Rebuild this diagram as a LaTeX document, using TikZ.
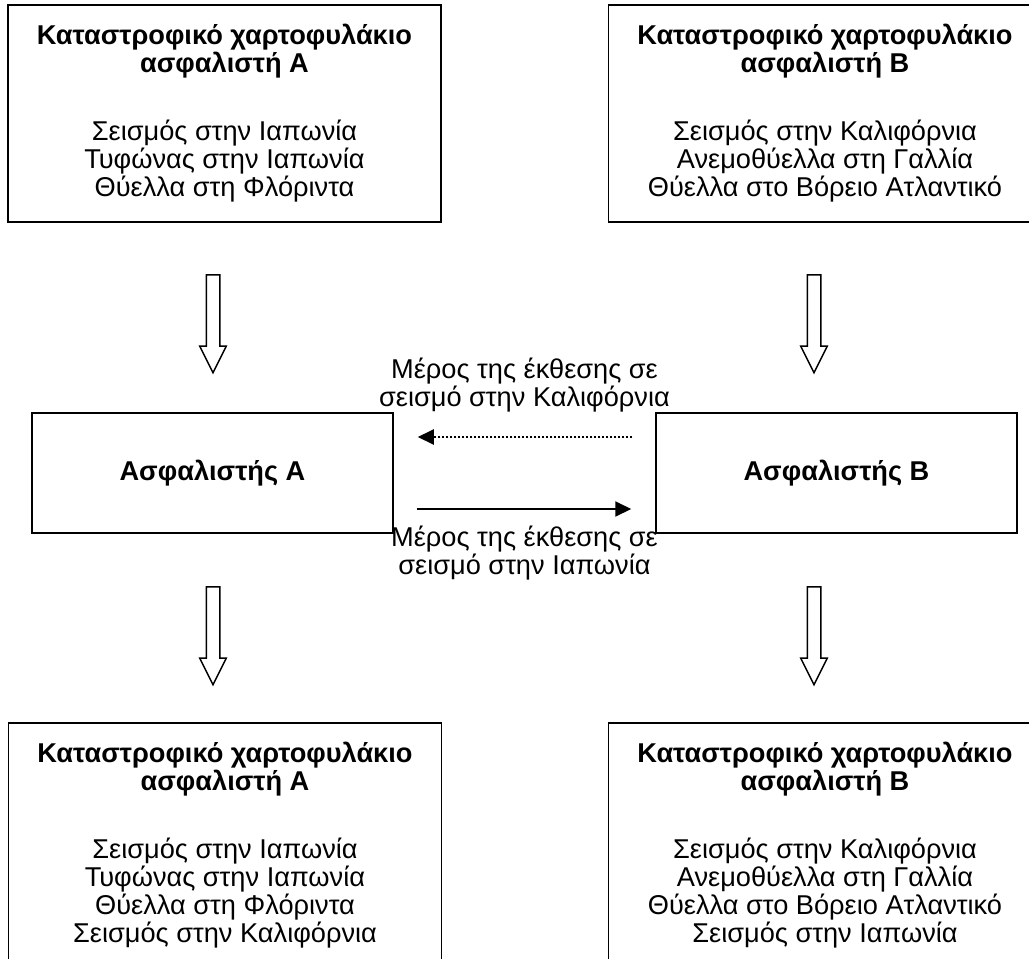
\documentclass[tikz,border=0pt]{standalone}
\usepackage{fontspec}
\setmainfont{Liberation Sans}
\usetikzlibrary{arrows.meta,shapes.arrows}

\begin{document}
\begin{tikzpicture}[x=0.5pt, y=-0.5pt, >={Triangle[length=8pt,width=7.5pt]},
		font=\fontsize{13.6pt}{14pt}\selectfont,
		portfolio/.style={draw, line width=0.75pt, align=center, inner sep=0pt, minimum width=216.5pt},
		insurer/.style={draw, line width=0.75pt, inner sep=0pt, minimum width=180.5pt, minimum height=60pt, font=\fontsize{13.6pt}{14pt}\selectfont\bfseries},
		bigarrow/.style={draw, line width=0.75pt, single arrow, rotate=-90, inner sep=0pt, inner ysep=3pt, minimum height=49pt, single arrow head extend=3.25pt, single arrow tip angle=53},
		flow/.style={->, line width=1pt, shorten <=11.5pt, shorten >=12pt},
		note/.style={align=center, inner sep=0pt}]
			\useasboundingbox (0,0) rectangle (1029,959);
			%%% Χαρτοφυλάκια πριν
			\node[portfolio, minimum height=108.5pt] (portA) at (224.5,113.5) {\textbf{Καταστροφικό χαρτοφυλάκιο}\\\textbf{ασφαλιστή Α}\\[20pt]Σεισμός στην Ιαπωνία\\Τυφώνας στην Ιαπωνία\\Θύελλα στη Φλόριντα};
			\node[portfolio, minimum height=108.5pt] (portB) at (825,113.5) {\textbf{Καταστροφικό χαρτοφυλάκιο}\\\textbf{ασφαλιστή Β}\\[20pt]Σεισμός στην Καλιφόρνια\\Ανεμοθύελλα στη Γαλλία\\Θύελλα στο Βόρειο Ατλαντικό};
			%%% Ασφαλιστές
			\node[insurer] (insA) at (212.5,473) {Ασφαλιστής Α};
			\node[insurer] (insB) at (836.5,473) {Ασφαλιστής Β};
			%%% Χαρτοφυλάκια μετά
			\node[portfolio, minimum height=122.5pt] (newportA) at (225,845.5) {\textbf{Καταστροφικό χαρτοφυλάκιο}\\\textbf{ασφαλιστή Α}\\[20pt]Σεισμός στην Ιαπωνία\\Τυφώνας στην Ιαπωνία\\Θύελλα στη Φλόριντα\\Σεισμός στην Καλιφόρνια};
			\node[portfolio, minimum height=122.5pt] (newportB) at (825,845.5) {\textbf{Καταστροφικό χαρτοφυλάκιο}\\\textbf{ασφαλιστή Β}\\[20pt]Σεισμός στην Καλιφόρνια\\Ανεμοθύελλα στη Γαλλία\\Θύελλα στο Βόρειο Ατλαντικό\\Σεισμός στην Ιαπωνία};
			%%% Βέλη
			\node[bigarrow] (downA1) at (213,317) {};
			\node[bigarrow] (downB1) at (814,317) {};
			\node[bigarrow] (downA2) at (213,629) {};
			\node[bigarrow] (downB2) at (814,629) {};
			%%% Ανταλλαγή
			\draw[flow, dash pattern=on 1pt off 1pt] ([yshift=18pt]insB.west) -- ([yshift=18pt]insA.east) node [note, pos = 0.5, above=12pt] (noteCal) {Μέρος της έκθεσης σε\\σεισμό στην Καλιφόρνια};
			\draw[flow] ([yshift=-18pt]insA.east) -- ([yshift=-18pt]insB.west) node [note, pos = 0.5, below=8pt] (noteJap) {Μέρος της έκθεσης σε\\σεισμό στην Ιαπωνία};
		\end{tikzpicture}
\end{document}
